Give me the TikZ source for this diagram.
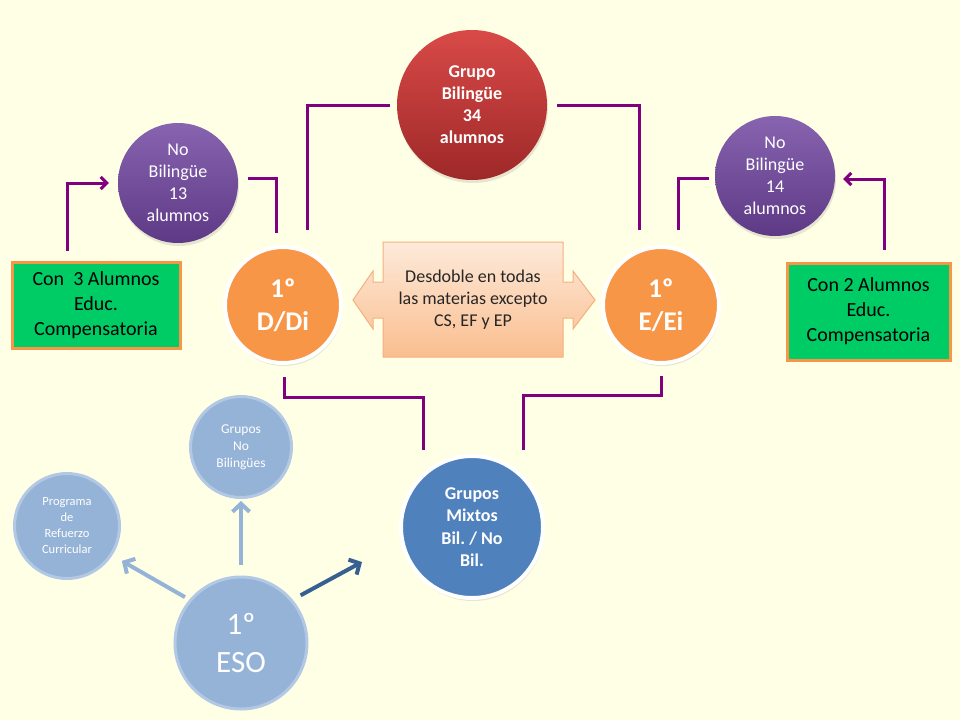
\documentclass[tikz,border=0pt]{standalone}
\usepackage{fontspec}
\setmainfont{Carlito}
\frenchspacing
\usetikzlibrary{arrows.meta}
\usetikzlibrary{positioning}
\usetikzlibrary{shadows}
\definecolor{paper}{RGB}{255,255,229}
\definecolor{linkpurple}{RGB}{128,0,128}
\definecolor{biltop}{RGB}{216,74,72}
\definecolor{bilbot}{RGB}{158,40,40}
\definecolor{nbtop}{RGB}{136,100,176}
\definecolor{nbbot}{RGB}{94,58,134}
\definecolor{course}{RGB}{247,150,70}
\definecolor{mixblue}{RGB}{79,129,189}
\definecolor{palefill}{RGB}{149,179,215}
\definecolor{paleedge}{RGB}{178,200,228}
\definecolor{darkarrow}{RGB}{55,96,146}
\definecolor{compgreen}{RGB}{0,204,102}
\definecolor{splittop}{RGB}{253,234,218}
\definecolor{splitbot}{RGB}{250,190,143}
\definecolor{splitedge}{RGB}{244,176,128}
\definecolor{splittext}{RGB}{38,38,38}
\tikzset{bubble/.style = {circle, inner sep=0pt, align=center, text=white},
         shade/.style = {drop shadow={opacity=.2, shadow xshift=1pt, shadow yshift=-3pt}},
         nobil/.style = {bubble, shade, minimum size=120pt, top color=nbtop, bottom color=nbbot,
                         font=\fontsize{18}{22}\selectfont},
         course/.style = {bubble, shade, minimum size=116pt, fill=course, draw=white, line width=4pt,
                          font=\bfseries\fontsize{27}{33}\selectfont},
         pale/.style = {bubble, fill=palefill, draw=paleedge, line width=3pt},
         comp/.style = {rectangle, fill=compgreen, draw=course, line width=3pt, align=center,
                        inner sep=0pt, font=\fontsize{20}{25}\selectfont},
         link/.style = {draw=linkpurple, line width=3pt},
         pointer/.style = {link, -{Straight Barb[length=6pt,width=12pt]}},
         palearrow/.style = {draw=palefill, line width=4pt, -{Straight Barb[length=8pt,width=17pt]}}}

\begin{document}
\begin{tikzpicture}[x=1pt, y=-1pt]
      \useasboundingbox (0, 0) rectangle (960, 720);
      \fill [paper] (0, 0) rectangle (960, 720);

      \node [bubble, shade, minimum size=150pt, top color=biltop, bottom color=bilbot,
             font=\bfseries\fontsize{18}{22}\selectfont] (bil) at (472, 105) {Grupo\\Bilingüe\\34\\alumnos};
      \node [nobil] (nb1) at (178, 183) {No\\Bilingüe\\13\\alumnos};
      \node [nobil] (nb2) at (775, 176) {No\\Bilingüe\\14\\alumnos};
      \node [course] (dd) at (283, 305) {1º\\D/Di};
      \node [course] (ee) at (661, 305) {1º\\E/Ei};
      \node [comp, minimum width=168pt, minimum height=86pt] (comp1) at (96, 305) {Con~ 3 Alumnos\\Educ.\\Compensatoria};
      \node [comp, minimum width=163pt, minimum height=97pt] (comp2) at (868.5, 311.5) {Con 2 Alumnos\\Educ.\\Compensatoria};

      \draw [top color=splittop, bottom color=splitbot, draw=splitedge, line width=1pt]
            (383, 242) -- (563, 242) -- (563, 282) -- (573, 282) -- (573, 271) -- (595, 300)
            -- (573, 329) -- (573, 318) -- (563, 318) -- (563, 357) -- (383, 357) -- (383, 318)
            -- (373, 318) -- (373, 329) -- (353, 300) -- (373, 271) -- (373, 282) -- (383, 282) -- cycle;
      \node [align=center, text=splittext, font=\fontsize{18}{22}\selectfont] (split) at (473, 300)
            {Desdoble en todas\\las materias excepto\\CS, EF y EP};

      \node [bubble, shade, minimum size=142pt, fill=mixblue, draw=white, line width=4pt,
             font=\bfseries\fontsize{18}{22.5}\selectfont] (mix) at (472, 527) {Grupos\\Mixtos\\Bil. / No\\Bil.};
      \node [pale, minimum size=101pt, font=\fontsize{13.5}{17}\selectfont] (gnb) at (241, 447) {Grupos\\No\\Bilingües};
      \node [pale, minimum size=105pt, font=\fontsize{12.5}{16}\selectfont] (prc) at (67, 526) {Programa\\de\\Refuerzo\\Curricular};
      \node [pale, minimum size=132pt, font=\fontsize{31}{38}\selectfont] (eso) at (241, 643) {1º\\ESO};
      \coordinate (mixin) at (362, 562);

      \draw [pointer] ([xshift=-29pt, yshift=10pt]comp1.north) |- ([xshift=-9pt]nb1.west);
      \draw [link] ([xshift=10pt, yshift=5pt]nb1.east) -| ([xshift=-7pt, yshift=12pt]dd.north);
      \draw [link] ([xshift=24pt, yshift=15pt]dd.north) |- ([xshift=-7pt]bil.west);
      \draw [link] ([xshift=10pt]bil.east) -| ([xshift=-22pt, yshift=15pt]ee.north);
      \draw [link] ([xshift=-6pt, yshift=-2pt]nb2.west) -| ([xshift=17pt, yshift=15pt]ee.north);
      \draw [pointer] ([xshift=16pt, yshift=12pt]comp2.north) |- ([xshift=8pt, yshift=-3pt]nb2.east);
      \draw [link] ([xshift=1pt, yshift=-12pt]dd.south) -- ++(0, 20) -| ([xshift=-49pt, yshift=4pt]mix.north);
      \draw [link] ([yshift=-11pt]ee.south) -- ++(0, 19) -| ([xshift=51pt, yshift=4pt]mix.north);

      \draw [palearrow] ([yshift=11pt]eso.north) -- ([yshift=-2pt]gnb.south);
      \draw [palearrow, shorten <=5pt, shorten >=11pt] (eso.140) -- (prc.-33);
      \draw [palearrow, draw=darkarrow, shorten <=9pt] (eso.40) -- (mixin);
\end{tikzpicture}
\end{document}
